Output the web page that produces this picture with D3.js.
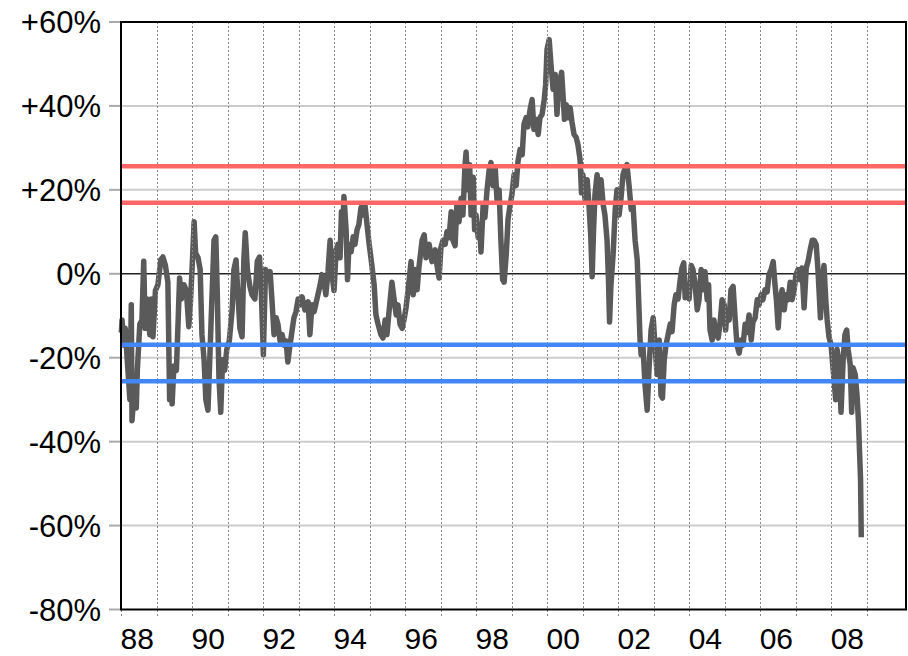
<!DOCTYPE html>
<html>
<head>
<meta charset="utf-8">
<script src="https://cdn.jsdelivr.net/npm/d3@7"></script>
<style>
  body { margin: 0; background: #fff; }
  svg { display: block; }
</style>
</head>
<body>
<svg width="908" height="656"></svg>
<script>
// weekly-ish readings, decimal year -> % deviation
var years = [
  1988.01,1988.03,1988.08,1988.12,1988.18,1988.25,1988.29,1988.31,1988.37,1988.43,1988.46,1988.53,1988.59,1988.64,1988.68,1988.74,1988.81,1988.85,1988.90,1988.97,
  1989.04,1989.12,1989.18,1989.25,1989.32,1989.37,1989.40,1989.44,1989.49,1989.56,1989.61,1989.65,1989.70,1989.77,1989.84,1989.91,1989.96,
  1990.00,1990.06,1990.10,1990.17,1990.23,1990.28,1990.34,1990.39,1990.45,1990.51,1990.56,1990.62,1990.67,1990.71,1990.76,1990.81,1990.86,1990.92,1990.98,
  1991.05,1991.13,1991.18,1991.24,1991.30,1991.35,1991.41,1991.46,1991.50,1991.56,1991.63,1991.69,1991.77,1991.84,1991.90,1991.95,
  1992.01,1992.07,1992.14,1992.20,1992.25,1992.31,1992.37,1992.42,1992.48,1992.54,1992.59,1992.65,1992.70,1992.76,1992.82,1992.87,1992.93,1992.99,
  1993.04,1993.10,1993.18,1993.27,1993.32,1993.38,1993.44,1993.52,1993.61,1993.66,1993.72,1993.77,1993.83,1993.89,1993.94,
  1994.00,1994.06,1994.11,1994.17,1994.21,1994.25,1994.28,1994.34,1994.38,1994.42,1994.48,1994.54,1994.59,1994.65,1994.70,1994.76,1994.82,1994.87,1994.93,1994.99,
  1995.04,1995.13,1995.18,1995.24,1995.32,1995.38,1995.44,1995.49,1995.55,1995.63,1995.69,1995.75,1995.80,1995.86,1995.92,1995.97,
  1996.03,1996.11,1996.17,1996.23,1996.28,1996.34,1996.39,1996.48,1996.54,1996.59,1996.68,1996.76,1996.85,1996.90,1996.96,
  1997.01,1997.07,1997.13,1997.18,1997.24,1997.30,1997.35,1997.41,1997.46,1997.52,1997.58,1997.63,1997.69,1997.72,1997.77,1997.82,1997.86,1997.92,1997.96,
  1998.00,1998.06,1998.10,1998.14,1998.20,1998.25,1998.31,1998.37,1998.42,1998.48,1998.54,1998.59,1998.65,1998.70,1998.75,1998.79,1998.85,1998.90,1998.96,
  1999.01,1999.07,1999.13,1999.18,1999.24,1999.30,1999.35,1999.41,1999.46,1999.52,1999.58,1999.63,1999.69,1999.75,1999.80,1999.86,1999.92,1999.96,
  2000.00,2000.06,2000.11,2000.17,2000.23,2000.28,2000.32,2000.37,2000.41,2000.45,2000.49,2000.54,2000.59,2000.65,2000.70,2000.76,2000.82,2000.87,2000.93,2000.97,
  2001.01,2001.07,2001.13,2001.18,2001.23,2001.27,2001.31,2001.35,2001.41,2001.46,2001.52,2001.58,2001.63,2001.69,2001.73,2001.76,2001.80,2001.86,2001.92,2001.97,
  2002.03,2002.08,2002.14,2002.20,2002.25,2002.31,2002.37,2002.42,2002.48,2002.54,2002.58,2002.62,2002.65,2002.70,2002.76,2002.82,2002.87,2002.93,2002.99,
  2003.04,2003.10,2003.16,2003.21,2003.25,2003.30,2003.35,2003.41,2003.47,2003.52,2003.58,2003.63,2003.69,2003.75,2003.80,2003.85,2003.89,2003.94,
  2004.00,2004.06,2004.11,2004.17,2004.23,2004.28,2004.34,2004.39,2004.45,2004.51,2004.55,2004.59,2004.65,2004.70,2004.76,2004.82,2004.87,2004.93,2004.99,
  2005.03,2005.07,2005.13,2005.18,2005.24,2005.30,2005.35,2005.41,2005.47,2005.52,2005.58,2005.63,2005.69,2005.75,2005.80,2005.86,2005.92,2005.97,
  2006.03,2006.08,2006.14,2006.20,2006.25,2006.31,2006.37,2006.42,2006.46,2006.51,2006.56,2006.62,2006.68,2006.73,2006.79,2006.85,2006.90,2006.96,
  2007.01,2007.07,2007.13,2007.18,2007.24,2007.30,2007.35,2007.41,2007.47,2007.52,2007.58,2007.63,2007.70,2007.75,2007.80,2007.85,2007.89,2007.94,
  2008.00,2008.06,2008.13,2008.17,2008.23,2008.28,2008.34,2008.39,2008.44,2008.48,2008.54,2008.58,2008.62,2008.68,2008.73,2008.77,2008.80,2008.83,2008.85
];
var values = [
  -14,-11,-17,-13,-21,-30,-7.4,-35,-28,-32,-23,-12,-11,3,-13,-6,-14.5,-6,-15,-4,
  -2.6,3.3,4,2,-2,-30,-23,-31,-22,-23,-11,-1,-6,-2.6,-4,-12.6,-6,
  1,12.4,5,3.8,1,-14.5,-20.5,-30,-32.5,-18,-6,8,8.8,-4,-25,-33,-20.5,-23,-18,
  -16,-8.6,1,3.3,-6,-13,-15,3.3,9.8,1,-3,-5,-6,3,4,-4,
  -19.3,1,-1,0.5,-6,-14.5,-10.5,-12,-16,-14.5,-17,-16,-21,-17,-13.4,-10.5,-9,-6,
  -7.4,-5.5,-8.6,-6.7,-14.5,-7.4,-9,-6,-2.6,-0.2,-2,-5,0.5,8,0,
  -4,5.7,7,3.8,14.8,11.7,18.4,10.5,-1.4,7,5.2,8.8,7,10.5,11.7,15.8,14,16.5,11.7,7,
  3.8,-2.6,-9.8,-12,-14.5,-15.3,-11,-14.5,-9,-2,-6,-9.8,-7.4,-12,-13,-11,
  -8,-2,2.9,-5,1,-3.8,1.4,8,9.3,3.8,7,2.9,5.7,2,-1,
  6.2,8,7,10,8.6,14.8,8,6.7,16.5,12.4,18,14,26,29,20,26,14,23,10.5,
  14,8.6,11.7,5.2,16.5,13.4,20,24.8,26.5,21,25.3,17.7,20,8,-1.4,-2,4.5,12.9,16.5,
  18.9,23.6,21,26.7,29.6,28.4,35.6,37.2,35,39,41.5,34.4,36.8,33.2,37.2,38,41.5,45,
  53.5,55.8,49.9,44,47.5,38,44,46.3,48,42.7,36.8,40.3,37.2,39.6,36.3,33.2,32.5,30.8,27.2,19.3,
  23.6,17.7,22.4,16.5,9.3,-0.7,10.5,18.9,23.6,17.7,22.4,16.5,14,8,-1.4,-11.5,-2.6,4.5,15.3,20,
  14,17.7,23.6,25.3,26,21,15.3,16.5,8,3.3,-6.2,-15.8,-19.3,-17,-26.5,-32.5,-23,-13.4,-10.5,
  -17,-24,-15.8,-29,-29.6,-20.5,-17,-14.5,-12,-13.8,-7.4,-5,-6,-1.4,1.4,2.6,-5.7,-2.6,
  -6,2,1,-2.6,-8.6,-6.2,1,-3.8,0.5,-6.2,-2.6,-13.4,-15.8,-11,-14.5,-15.3,-12,-6.2,-7.4,
  -13.4,-8.6,-11,-3.8,-3,-11,-17,-18.9,-15.8,-17,-12,-14,-9.8,-15.8,-11.5,-10.5,-6.2,-7.4,
  -5,-6.2,-3.8,-4.3,-0.2,1,2.9,-2.6,-6.2,-12.9,-6.2,-3.8,-8.6,-5,-6.2,-2,-6.2,-3.8,
  -0.2,1,-1.4,1.4,-8.1,1.4,2.9,5.7,8,8,7,1,-10.5,-1.4,2,-6.2,-11,-15,
  -17,-23,-30,-18,-21.7,-33,-20.5,-14.5,-13.4,-18,-21.7,-33,-22.4,-24,-29,-34.8,-42,-49,-62.8
];
var upperBands = [25.6, 16.9];
var lowerBands = [-16.9, -25.6];
var yTicks = [-80, -60, -40, -20, 0, 20, 40, 60];
var yearTicks = d3.range(1988, 2010);
var yearLabels = ["88","90","92","94","96","98","00","02","04","06","08"];

var svg = d3.select('svg');
var plotL = 121, plotR = 906, plotT = 22, plotB = 609.5;

var x = d3.scaleLinear().domain([1988, 2010.11]).range([plotL, plotR]);
var y = d3.scaleLinear().domain([-80, 60]).range([plotB, plotT]);

// horizontal grid
svg.append('g').selectAll('line').data(yTicks.filter(function(d) { return d != 0 && d != -80 && d != 60 }))
  .enter().append('line')
  .attr('x1', plotL).attr('x2', plotR)
  .attr('y1', function(d) { return y(d) }).attr('y2', function(d) { return y(d) })
  .style('stroke', '#cccccc').style('stroke-width', 2);

// y tick marks outside
svg.append('g').selectAll('line').data(yTicks)
  .enter().append('line')
  .attr('x1', plotL - 12).attr('x2', plotL)
  .attr('y1', function(d) { return y(d) }).attr('y2', function(d) { return y(d) })
  .style('stroke', '#aaaaaa').style('stroke-width', 2);

// zero line
svg.append('line')
  .attr('x1', plotL).attr('x2', plotR).attr('y1', y(0)).attr('y2', y(0))
  .style('stroke', '#222').style('stroke-width', 1.5);

// series
var pts = years.map(function(d, i) { return [d, values[i]] });
svg.append('path').datum(pts)
  .attr('d', d3.line().x(function(d) { return x(d[0]) }).y(function(d) { return y(d[1]) }))
  .style('fill', 'none')
  .style('stroke', '#5a5a5a')
  .style('stroke-width', 5.5)
  .style('stroke-linejoin', 'round');

// dotted year lines on top
svg.append('g').selectAll('line').data(yearTicks)
  .enter().append('line')
  .attr('x1', function(d) { return Math.round(x(d)) + 0.5 })
  .attr('x2', function(d) { return Math.round(x(d)) + 0.5 })
  .attr('y1', plotT).attr('y2', plotB + 8)
  .style('stroke', '#888').style('stroke-width', 1)
  .style('stroke-dasharray', '2,2');

// threshold bands
svg.append('g').selectAll('line').data(upperBands)
  .enter().append('line')
  .attr('x1', plotL).attr('x2', plotR)
  .attr('y1', function(d) { return y(d) }).attr('y2', function(d) { return y(d) })
  .style('stroke', '#ff6666').style('stroke-width', 4.5);
svg.append('g').selectAll('line').data(lowerBands)
  .enter().append('line')
  .attr('x1', plotL).attr('x2', plotR)
  .attr('y1', function(d) { return y(d) }).attr('y2', function(d) { return y(d) })
  .style('stroke', '#4287f5').style('stroke-width', 4.5);

// frame
svg.append('rect')
  .attr('x', plotL).attr('y', plotT).attr('width', plotR - plotL).attr('height', plotB - plotT)
  .style('fill', 'none').style('stroke', '#000').style('stroke-width', 2);

// labels
svg.append('g').selectAll('text').data(yTicks)
  .enter().append('text')
  .attr('x', 101).attr('y', function(d) { return y(d) })
  .attr('dy', '0.36em')
  .style('text-anchor', 'end')
  .style('font', '31px "Liberation Sans", Arial, sans-serif')
  .text(function(d) { return (d > 0 ? '+' : '') + d + '%' });

svg.append('g').selectAll('text').data(yearLabels)
  .enter().append('text')
  .attr('x', function(d, i) { return x(1988 + 2 * i + 0.5) - 1.5 })
  .attr('y', 649)
  .style('text-anchor', 'middle')
  .style('font', '30px "Liberation Sans", Arial, sans-serif')
  .text(function(d) { return d });
</script>
</body>
</html>
